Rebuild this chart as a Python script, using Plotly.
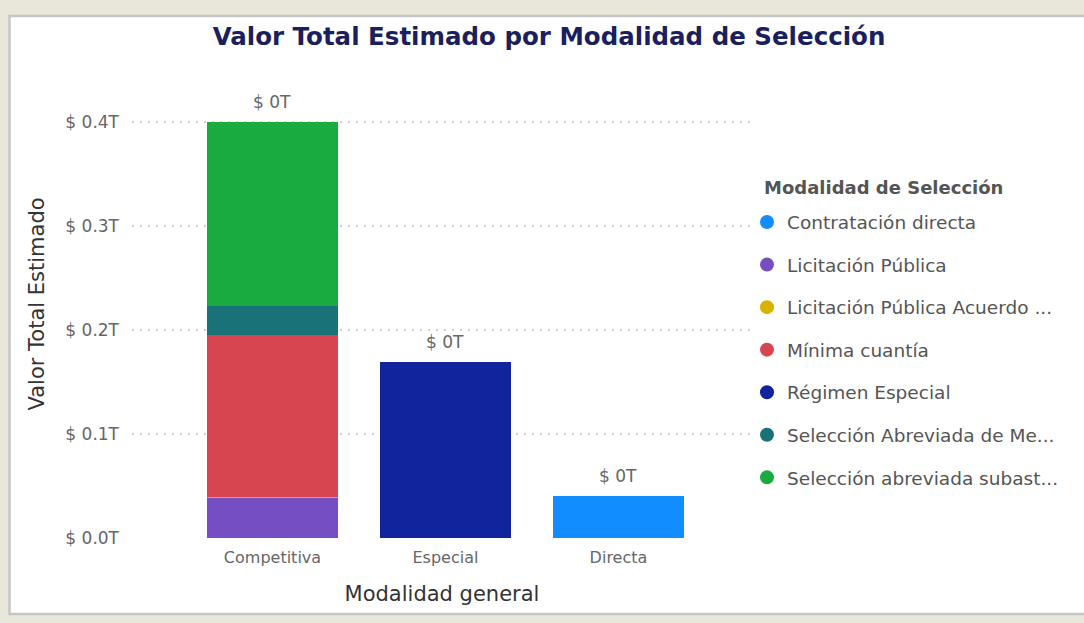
import plotly.graph_objects as go

# ---------------- data ----------------
categories = ["Competitiva", "Especial", "Directa"]

series_names = [
    "Contratación directa",
    "Licitación Pública",
    "Licitación Pública Acuerdo ...",
    "Mínima cuantía",
    "Régimen Especial",
    "Selección Abreviada de Me...",
    "Selección abreviada subast...",
]

contratacion_directa = [0.0, 0.0, 0.0407e12]
licitacion_publica = [0.0390e12, 0.0, 0.0]
licitacion_acuerdo = [0.0002e12, 0.0, 0.0]
minima_cuantia = [0.1560e12, 0.0, 0.0]
regimen_especial = [0.0, 0.1695e12, 0.0]
seleccion_abreviada_me = [0.0282e12, 0.0, 0.0]
seleccion_abreviada_subasta = [0.1763e12, 0.0, 0.0]

series_values = [
    contratacion_directa,
    licitacion_publica,
    licitacion_acuerdo,
    minima_cuantia,
    regimen_especial,
    seleccion_abreviada_me,
    seleccion_abreviada_subasta,
]

series_colors = ["#118DFF", "#744EC2", "#D9B300", "#D64550", "#12239E", "#197278", "#1AAB40"]

y_tickvals = [0.0, 0.1e12, 0.2e12, 0.3e12, 0.4e12]
y_ticktext = ["$ 0.0T", "$ 0.1T", "$ 0.2T", "$ 0.3T", "$ 0.4T"]

legend_title = "Modalidad de Selección"

# stacking order (bottom -> top) as in the reference
stack_order = [1, 2, 3, 5, 6, 4, 0]

FONT = "DejaVu Sans, Open Sans, sans-serif"

fig = go.Figure()

for i in stack_order:
    fig.add_trace(go.Bar(
        x=categories, y=series_values[i], name=series_names[i],
        marker=dict(color=series_colors[i], line=dict(width=0)),
        showlegend=False, hoverinfo="x+y+name",
    ))

# legend entries with round markers
for i, name in enumerate(series_names):
    fig.add_trace(go.Scatter(
        x=[None], y=[None], mode="markers", name=name,
        marker=dict(symbol="circle", size=14, color=series_colors[i]),
        legendgroup=name, showlegend=True,
    ))

# total labels
totals = [sum(v[k] for v in series_values) for k in range(len(categories))]
for cat, tot in zip(categories, totals):
    fig.add_annotation(
        x=cat, y=tot, text=f"$ {tot / 1e12:.0f}T", showarrow=False,
        yanchor="bottom", yshift=8,
        font=dict(family=FONT, size=17, color="#666666"),
    )

# white panel with grey border on a beige page
L, R, T, B = 132, 332, 70, 85
pw, ph = 1084 - L - R, 623 - T - B
def px_x(p):
    return (p - L) / pw
def px_y(p):
    return (623 - B - p) / ph

fig.add_shape(type="rect", xref="paper", yref="paper",
              x0=px_x(9.5), x1=px_x(1100), y0=px_y(614), y1=px_y(16),
              fillcolor="white", line=dict(color="#C6C6C6", width=2.5), layer="below")

# legend title
fig.add_annotation(
    xref="paper", yref="paper", x=px_x(762), y=px_y(187),
    xanchor="left", yanchor="middle", showarrow=False,
    text=f"<b>{legend_title}</b>",
    font=dict(family=FONT, size=18, color="#555555"),
)

fig.update_layout(
    width=1084, height=623,
    margin=dict(l=L, r=R, t=T, b=B),
    paper_bgcolor="#E9E6DA",
    plot_bgcolor="rgba(0,0,0,0)",
    barmode="stack",
    bargap=0.243,
    title=dict(
        text="<b>Valor Total Estimado por Modalidad de Selección</b>",
        x=549 / 1084, xanchor="center", y=1 - 36 / 623, yanchor="middle", yref="container",
        font=dict(family="DejaVu Sans", size=24.5, color="#1B1F5E"),
    ),
    xaxis=dict(
        range=[-0.812, -0.812 + pw / 173.0],
        showgrid=False, zeroline=False, showline=False, ticks="",
        ticklabelstandoff=8,
        tickfont=dict(family=FONT, size=16, color="#666666"),
        title=dict(text="Modalidad general", standoff=20,
                   font=dict(family=FONT, size=21, color="#333333")),
    ),
    yaxis=dict(
        range=[0, ph * 0.1e12 / 104.0],
        tickvals=y_tickvals, ticktext=y_ticktext,
        showgrid=True, gridcolor="#CFCFCF", griddash="2px,6px", gridwidth=1.5,
        zeroline=False, showline=False, ticks="",
        ticklabelstandoff=12,
        tickfont=dict(family=FONT, size=17, color="#666666"),
        title=dict(text="Valor Total Estimado", standoff=15,
                   font=dict(family=FONT, size=21, color="#333333")),
    ),
    legend=dict(
        x=px_x(747), xanchor="left", y=px_y(203.5), yanchor="top",
        font=dict(family=FONT, size=18.5, color="#555555"),
        tracegroupgap=15.5, itemwidth=30,
        bgcolor="rgba(0,0,0,0)",
    ),
    showlegend=True,
)

fig.write_html(
    "out.html",
    config={"displayModeBar": False},
    post_script="document.body.style.margin='0';document.body.style.background='#E9E6DA';",
)
